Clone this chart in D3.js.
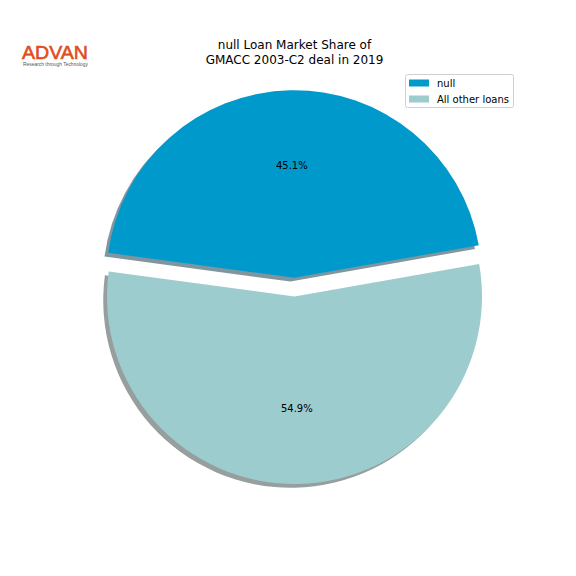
<!DOCTYPE html>
<html><head><meta charset="utf-8">
<script src="https://cdn.jsdelivr.net/npm/d3@7"></script>
<style>body{margin:0;background:#fff}svg{display:block}</style>
</head><body>
<svg id="c" width="576" height="576"></svg>
<script>
const categories = ["null", "All other loans"];
const shares = [45.1, 54.9];
const colors = ["#0099cc", "#9ccccd"];
const explode = [0.1, 0];
const titleLines = ["null Loan Market Share of", "GMACC 2003-C2 deal in 2019"];

const svg = d3.select("#c");
const cx = 294.5, cy = 296.5, R = 187.5;
const startDeg = 10; // matplotlib startangle (ccw from east)
const font = "DejaVu Sans, sans-serif";

const a0 = (90 - startDeg) * Math.PI / 180;
const pie = d3.pie().sort(null).value(d => d).startAngle(a0).endAngle(a0 - 2 * Math.PI);
const arcs = pie(shares);
const arc = d3.arc().innerRadius(0).outerRadius(R);

function offset(d, i) {
  const mid = (d.startAngle + d.endAngle) / 2;
  return [Math.sin(mid) * explode[i] * R, -Math.cos(mid) * explode[i] * R];
}
function dark(c) {
  const r = d3.rgb(c);
  return d3.rgb(r.r * 0.3, r.g * 0.3, r.b * 0.3);
}

const g = svg.append("g").attr("transform", `translate(${cx},${cy})`);
const sh = 0.02 * R;
g.selectAll("path.shadow").data(arcs).join("path")
  .attr("class", "shadow")
  .attr("d", arc)
  .attr("transform", (d, i) => { const o = offset(d, i); return `translate(${o[0] - sh},${o[1] + sh})`; })
  .attr("fill", (d, i) => dark(colors[i]))
  .attr("fill-opacity", 0.5);
g.selectAll("path.wedge").data(arcs).join("path")
  .attr("class", "wedge")
  .attr("d", arc)
  .attr("transform", (d, i) => { const o = offset(d, i); return `translate(${o[0]},${o[1]})`; })
  .attr("fill", (d, i) => colors[i]);
g.selectAll("text.pct").data(arcs).join("text")
  .attr("class", "pct")
  .attr("x", (d, i) => { const o = offset(d, i); const m = (d.startAngle + d.endAngle) / 2; return o[0] + Math.sin(m) * 0.6 * R; })
  .attr("y", (d, i) => { const o = offset(d, i); const m = (d.startAngle + d.endAngle) / 2; return o[1] - Math.cos(m) * 0.6 * R; })
  .attr("text-anchor", "middle").attr("dy", "0.35em")
  .attr("font-family", font).attr("font-size", 10).attr("fill", "#000")
  .text((d, i) => shares[i].toFixed(1) + "%");

svg.selectAll("text.title").data(titleLines).join("text")
  .attr("class", "title")
  .attr("x", 294.5).attr("y", (d, i) => 48.5 + i * 15)
  .attr("text-anchor", "middle")
  .attr("font-family", font).attr("font-size", 12).attr("fill", "#000")
  .text(d => d);

const lg = svg.append("g").attr("transform", "translate(405,74)");
lg.append("rect").attr("x", 0.5).attr("y", 0.5).attr("width", 108).attr("height", 33)
  .attr("rx", 2).attr("fill", "#fff").attr("fill-opacity", 0.8).attr("stroke", "#d0d0d0");
const items = lg.selectAll("g.item").data(categories).join("g")
  .attr("transform", (d, i) => `translate(4,${5 + i * 16})`);
items.append("rect").attr("width", 20).attr("height", 7).attr("y", 0.5)
  .attr("fill", (d, i) => colors[i]);
items.append("text").attr("x", 28).attr("y", 4).attr("dy", "0.35em")
  .attr("font-family", font).attr("font-size", 10).attr("fill", "#000")
  .text(d => d);

const logo = svg.append("g");
logo.append("text").attr("x", 22).attr("y", 58.5)
  .attr("font-family", "Liberation Sans, Arial, sans-serif").attr("font-size", 19)
  .attr("fill", "#dd4e1c").attr("stroke", "#dd4e1c").attr("stroke-width", 0.6)
  .attr("textLength", 66).attr("lengthAdjust", "spacingAndGlyphs")
  .text("ADVAN");
logo.append("text").attr("x", 23).attr("y", 65.5)
  .attr("font-family", "Liberation Sans, Arial, sans-serif").attr("font-size", 4.5)
  .attr("fill", "#555").attr("textLength", 65).attr("lengthAdjust", "spacingAndGlyphs")
  .text("Research through Technology");
</script>
</body></html>
